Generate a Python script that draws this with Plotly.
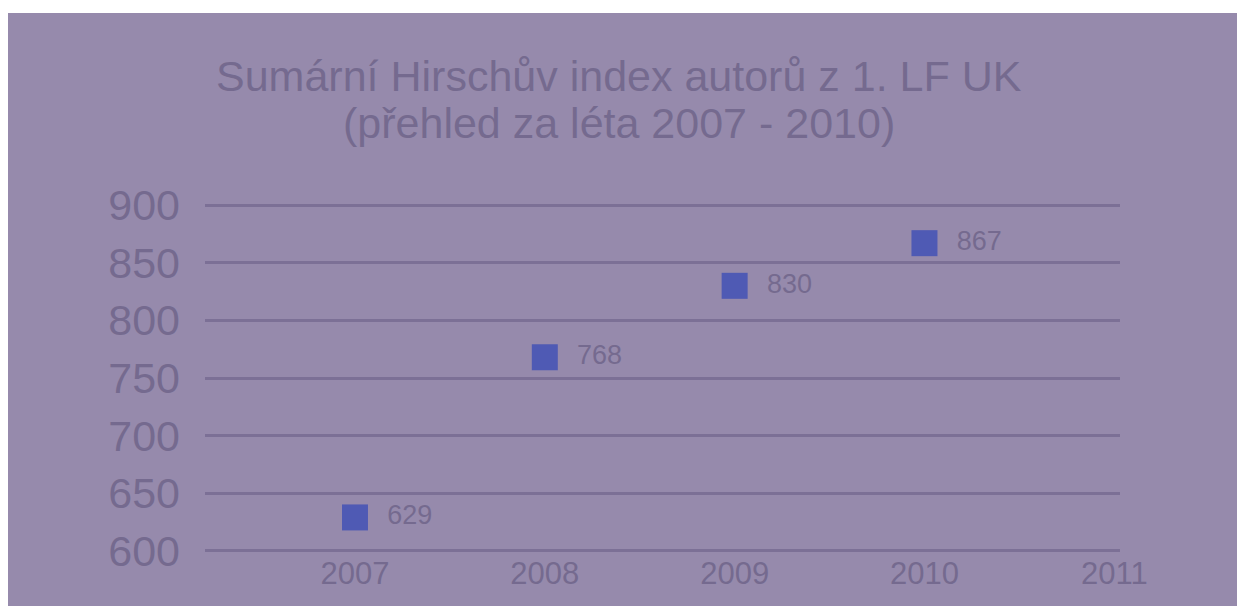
import plotly.graph_objects as go

years = [2007, 2008, 2009, 2010]
values = [629, 768, 830, 867]
labels = ["629", "768", "830", "867"]
x_ticks = [2007, 2008, 2009, 2010, 2011]
y_ticks = [600, 650, 700, 750, 800, 850, 900]

title_line1 = "Sumární Hirschův index autorů z 1. LF UK"
title_line2 = "(přehled za léta 2007 - 2010)"

BG = "#968aac"
GRID = "#7c7096"
TXT = "#756a8f"
MARK = "#4f5ab4"
FONT = "Liberation Sans, Arial, sans-serif"

W, H = 1237, 598
L, R, T, B = 197, 125, 196, 54
PW, PH = W - L - R, H - T - B

fig = go.Figure()
fig.add_trace(go.Scatter(
    x=years, y=values, mode="markers+text",
    marker=dict(symbol="square", size=26, color=MARK, line=dict(width=0)),
    text=["  " + t for t in labels], textposition="middle right",
    textfont=dict(family=FONT, size=27, color=TXT),
    cliponaxis=False, showlegend=False, hoverinfo="x+y",
))

# white strip at the very top of the page
fig.add_shape(type="rect", xref="paper", yref="paper",
              x0=-L / PW, x1=(W - L) / PW,
              y0=(PH + T - 5) / PH, y1=(PH + T) / PH,
              fillcolor="white", line=dict(width=0), layer="below")

fig.add_annotation(text=title_line1, xref="paper", yref="paper",
                   x=(611 - L) / PW, y=(PH + T - 94) / PH, xanchor="center", yanchor="bottom",
                   showarrow=False, font=dict(family=FONT, size=43, color=TXT))
fig.add_annotation(text=title_line2, xref="paper", yref="paper",
                   x=(611 - L) / PW, y=(PH + T - 141) / PH, xanchor="center", yanchor="bottom",
                   showarrow=False, font=dict(family=FONT, size=43, color=TXT))

fig.update_layout(
    width=W, height=H,
    margin=dict(l=L, r=R, t=T, b=B),
    paper_bgcolor=BG, plot_bgcolor=BG,
    xaxis=dict(range=[2006.21, 2011.03], tickvals=x_ticks, ticktext=[str(v) for v in x_ticks],
               showgrid=False, zeroline=False, showline=False,
               tickfont=dict(family=FONT, size=31, color=TXT)),
    yaxis=dict(range=[599, 901], tickvals=y_ticks, showgrid=True, gridcolor=GRID, gridwidth=3,
               zeroline=False, showline=False, ticklabelstandoff=24,
               tickfont=dict(family=FONT, size=43, color=TXT)),
)

fig.write_html("out.html")
